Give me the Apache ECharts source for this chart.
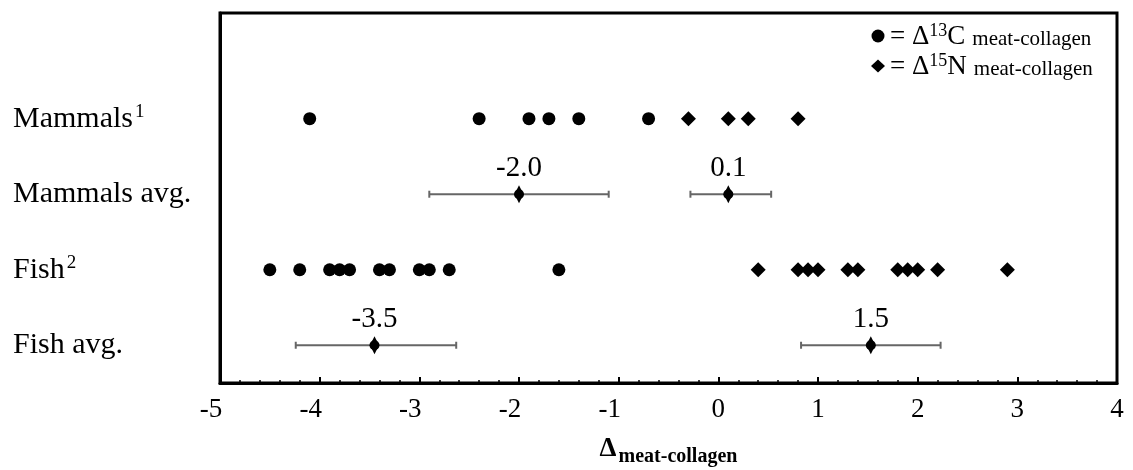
<!DOCTYPE html>
<html><head><meta charset="utf-8">
<script src="https://cdn.jsdelivr.net/npm/echarts@6/dist/echarts.min.js"></script>
<style>html,body{margin:0;padding:0;background:#fff}#c{width:1133px;height:470px}</style>
</head><body><div id="c"></div>
<script>
// Row categories (y positions: 4 = top row)
const rowNames = ['Fish avg.', 'Fish', 'Mammals avg.', 'Mammals'];
const rowLabels = ['Fish avg.', 'Fish{sup|2}', 'Mammals avg.', 'Mammals{sup|1}'];
// Individual values
const mammalsC = [-4.1, -2.4, -1.9, -1.7, -1.4, -0.7];
const mammalsN = [-0.3, 0.1, 0.3, 0.8];
const fishC = [-4.5, -4.2, -3.9, -3.8, -3.7, -3.4, -3.3, -3.0, -2.9, -2.7, -1.6];
const fishN = [0.4, 0.8, 0.9, 1.0, 1.3, 1.4, 1.8, 1.9, 2.0, 2.2, 2.9];
// Averages: [mean, low, high, label]
const mammalsAvg = [[-2.0, -2.9, -1.1, '-2.0'], [0.1, -0.28, 0.53, '0.1']];
const fishAvg = [[-3.45, -4.24, -2.63, '-3.5'], [1.53, 0.83, 2.23, '1.5']];
const xTicks = [-5, -4, -3, -2, -1, 0, 1, 2, 3, 4];

const FONT = '"Liberation Serif", "Times New Roman", serif';
const rowOf = n => rowNames.indexOf(n) + 1;

const cData = mammalsC.map(v => [v, rowOf('Mammals')]).concat(fishC.map(v => [v, rowOf('Fish')]));
const nData = mammalsN.map(v => [v, rowOf('Mammals')]).concat(fishN.map(v => [v, rowOf('Fish')]));
const avgData = mammalsAvg.map(a => [a[0], rowOf('Mammals avg.'), a[1], a[2], a[3]])
  .concat(fishAvg.map(a => [a[0], rowOf('Fish avg.'), a[1], a[2], a[3]]));

const chart = echarts.init(document.getElementById('c'), null, {renderer: 'canvas'});
chart.setOption({
  animation: false,
  backgroundColor: '#fff',
  textStyle: {fontFamily: FONT, color: '#000'},
  grid: {left: 220, right: 16, top: 13, bottom: 87, show: true, borderColor: '#000', borderWidth: 3,
    backgroundColor: 'transparent', containLabel: false, outerBoundsMode: 'none'},
  legend: {
    data: ['C', 'N'], orient: 'vertical', left: 866, top: 17, itemGap: 2,
    itemWidth: 14, itemHeight: 13,
    formatter: n => n === 'C' ? '{t|= Δ}{sup|13}{t|C}{sub|meat-collagen}' : '{t|= Δ}{sup|15}{t|N}{sub|meat-collagen}',
    textStyle: {
      fontFamily: FONT, color: '#000',
      rich: {
        t: {fontFamily: FONT, fontSize: 27, color: '#000', lineHeight: 28, verticalAlign: 'bottom'},
        sup: {fontFamily: FONT, fontSize: 18, color: '#000', lineHeight: 28, verticalAlign: 'top'},
        sub: {fontFamily: FONT, fontSize: 21, color: '#000', lineHeight: 28, verticalAlign: 'bottom', padding: [0, 0, 0, 7]}
      }
    }
  },
  xAxis: {
    type: 'value', min: -5, max: 4, interval: 1,
    axisLine: {show: true, onZero: false, lineStyle: {color: '#000', width: 3}},
    axisTick: {show: true, inside: true, length: 6, lineStyle: {color: '#000', width: 2}},
    minorTick: {show: true, splitNumber: 5, length: 3, lineStyle: {color: '#000', width: 1.5}},
    splitLine: {show: false},
    axisLabel: {
      fontFamily: FONT, fontSize: 27, color: '#000', margin: 13,
      formatter: v => v < 0 ? '{n|' + v + '}' : String(v),
      rich: {n: {fontFamily: FONT, fontSize: 27, color: '#000', padding: [0, 18, 0, 0]}}
    },
    name: '{d|Δ}{s|meat-collagen}', nameLocation: 'middle', nameGap: 52,
    nameTextStyle: {
      rich: {
        d: {fontFamily: FONT, fontSize: 27, fontWeight: 'bold', color: '#000', verticalAlign: 'bottom', lineHeight: 28},
        s: {fontFamily: FONT, fontSize: 20, fontWeight: 'bold', color: '#000', verticalAlign: 'bottom', lineHeight: 28, padding: [0, 0, -4, 2]}
      }
    }
  },
  yAxis: {
    type: 'value', min: 0.5, max: 5.4, interval: 0.5,
    axisLine: {show: true, onZero: false, lineStyle: {color: '#000', width: 3}},
    axisTick: {show: false}, splitLine: {show: false},
    axisLabel: {
      showMaxLabel: false,
      align: 'left', margin: 207,
      formatter: v => (Number.isInteger(v) && v >= 1 && v <= 4) ? rowLabels[v - 1] : '',
      rich: {
        sup: {fontFamily: FONT, fontSize: 19, color: '#000', verticalAlign: 'top', lineHeight: 32, padding: [0, 0, 0, 2]}
      },
      fontFamily: FONT, fontSize: 30, color: '#000', lineHeight: 32
    }
  },
  series: [
    {name: 'C', type: 'scatter', symbol: 'circle', symbolSize: 13, itemStyle: {color: '#000', opacity: 1}, data: cData, z: 5},
    {name: 'N', type: 'scatter', symbol: 'diamond', symbolSize: 15, itemStyle: {color: '#000', opacity: 1}, data: nData, z: 5},
    {
      name: 'err', type: 'custom', z: 3,
      renderItem: (params, api) => {
        const y = api.value(1);
        const lo = api.coord([api.value(2), y]);
        const hi = api.coord([api.value(3), y]);
        const st = {stroke: '#666', lineWidth: 2};
        const cap = 3.5;
        return {type: 'group', children: [
          {type: 'line', shape: {x1: lo[0], y1: lo[1], x2: hi[0], y2: hi[1]}, style: st},
          {type: 'line', shape: {x1: lo[0], y1: lo[1] - cap, x2: lo[0], y2: lo[1] + cap}, style: st},
          {type: 'line', shape: {x1: hi[0], y1: hi[1] - cap, x2: hi[0], y2: hi[1] + cap}, style: st}
        ]};
      },
      encode: {x: 0, y: 1},
      data: avgData
    },
    {name: 'avgDiamond', type: 'scatter', symbol: 'diamond', symbolSize: [9, 18], itemStyle: {color: '#000', opacity: 1}, data: avgData, z: 6,
      label: {show: true, position: 'top', distance: 2, formatter: p => p.data[4], fontFamily: FONT, fontSize: 29, color: '#000'}},
    {name: 'avgCircle', type: 'scatter', symbol: 'circle', symbolSize: 10, itemStyle: {color: '#000', opacity: 1}, data: avgData, z: 6}
  ]
});
</script></body></html>
